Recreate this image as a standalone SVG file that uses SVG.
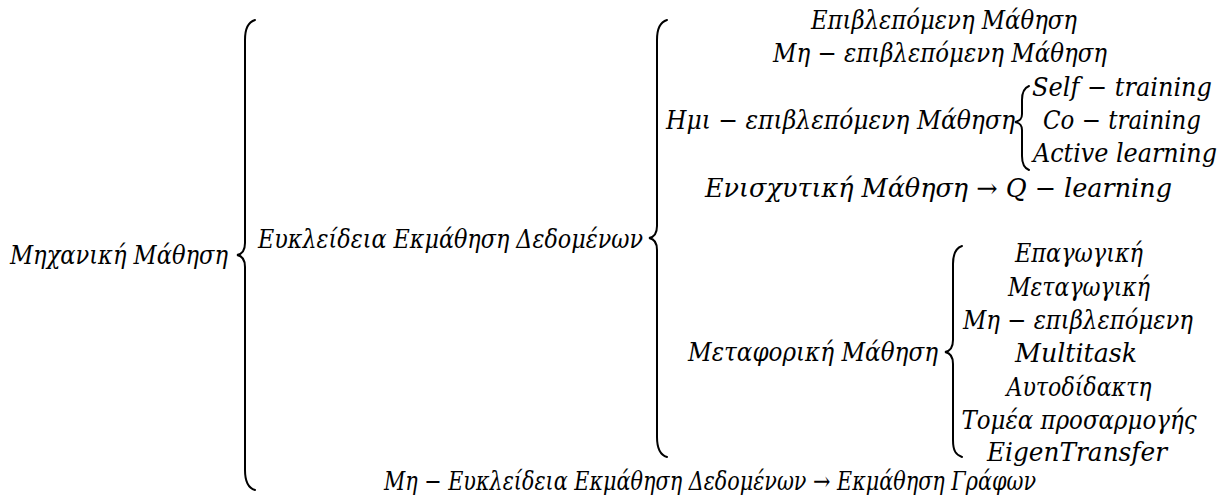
<svg xmlns="http://www.w3.org/2000/svg" width="1228" height="495" viewBox="0 0 1228 495">
  <style>
    .t { font-family: "DejaVu Serif", "Liberation Serif", serif; font-style: italic; font-size: 26px; fill: #000; }
    .m { text-anchor: middle; }
    .e { text-anchor: end; }
    .brace { fill: none; stroke: #000; stroke-width: 2; stroke-linecap: round; }
  </style>
  <rect width="1228" height="495" fill="#fff"/>

  <!-- curly braces joining each term to its sub-terms -->
  <g id="connectors">
    <!-- main brace -->
    <path class="brace" d="M255,20 C248,22 245,28 245,40 L245,243 C245,250 243,254 237,255 C243,256 245,260 245,267 L245,470 C245,482 248,488 255,490"/>
    <!-- euclidean brace -->
    <path class="brace" d="M667,20 C660,22 657,28 657,40 L657,226 C657,233 655,237 649,238 C655,239 657,243 657,250 L657,437 C657,449 660,455 667,457"/>
    <!-- semi-supervised brace -->
    <path class="brace" d="M1029,86 C1024,88 1022,93 1022,100 L1022,114 C1022,119 1020,121 1015,122 C1020,123 1022,125 1022,130 L1022,156 C1022,163 1024,168 1029,170"/>
    <!-- transfer brace -->
    <path class="brace" d="M962,246 C956,248 953,253 953,264 L953,340 C953,347 951,351 945,352 C951,353 953,357 953,364 L953,440 C953,451 956,455 962,457"/>
  </g>

  <g id="node-ml">
    <text class="t" x="10" y="264" textLength="218" lengthAdjust="spacingAndGlyphs">Μηχανική Μάθηση</text>
  </g>
  <g id="node-euclidean">
    <text class="t" x="258" y="248" textLength="385" lengthAdjust="spacingAndGlyphs">Ευκλείδεια Εκμάθηση Δεδομένων</text>
  </g>
  <g id="node-supervised">
    <text class="t" x="811" y="29" textLength="266" lengthAdjust="spacingAndGlyphs">Επιβλεπόμενη Μάθηση</text>
  </g>
  <g id="node-unsupervised">
    <text class="t" x="773" y="62" textLength="334" lengthAdjust="spacingAndGlyphs">Μη − επιβλεπόμενη Μάθηση</text>
  </g>
  <g id="node-semi">
    <text class="t" x="666" y="129" textLength="349" lengthAdjust="spacingAndGlyphs">Ημι − επιβλεπόμενη Μάθηση</text>
  </g>
  <g id="node-self">
    <text class="t e" x="1212" y="96" textLength="180" lengthAdjust="spacingAndGlyphs">Self − training</text>
  </g>
  <g id="node-co">
    <text class="t" x="1043" y="129" textLength="158" lengthAdjust="spacingAndGlyphs">Co − training</text>
  </g>
  <g id="node-active">
    <text class="t e" x="1217" y="162" textLength="184" lengthAdjust="spacingAndGlyphs">Active learning</text>
  </g>
  <g id="node-reinforcement">
    <text class="t" x="705" y="197" textLength="467" lengthAdjust="spacingAndGlyphs">Ενισχυτική Μάθηση →  Q − learning</text>
  </g>
  <g id="node-transfer">
    <text class="t" x="688" y="361" textLength="250" lengthAdjust="spacingAndGlyphs">Μεταφορική Μάθηση</text>
  </g>
  <g id="node-transfer-types">
    <text class="t m" x="1079" y="262" textLength="128" lengthAdjust="spacingAndGlyphs">Επαγωγική</text>
    <text class="t m" x="1079" y="296" textLength="142" lengthAdjust="spacingAndGlyphs">Μεταγωγική</text>
    <text class="t m" x="1078" y="329" textLength="230" lengthAdjust="spacingAndGlyphs">Μη − επιβλεπόμενη</text>
    <text class="t m" x="1076" y="362" textLength="122" lengthAdjust="spacingAndGlyphs">Multitask</text>
    <text class="t m" x="1079" y="396" textLength="145" lengthAdjust="spacingAndGlyphs">Αυτοδίδακτη</text>
    <text class="t m" x="1079" y="429" textLength="235" lengthAdjust="spacingAndGlyphs">Τομέα προσαρμογής</text>
    <text class="t m" x="1077" y="461" textLength="180" lengthAdjust="spacingAndGlyphs">EigenTransfer</text>
  </g>
  <g id="node-non-euclidean">
    <text class="t" x="384" y="490" textLength="652" lengthAdjust="spacingAndGlyphs">Μη − Ευκλείδεια Εκμάθηση Δεδομένων →  Εκμάθηση Γράφων</text>
  </g>
</svg>
